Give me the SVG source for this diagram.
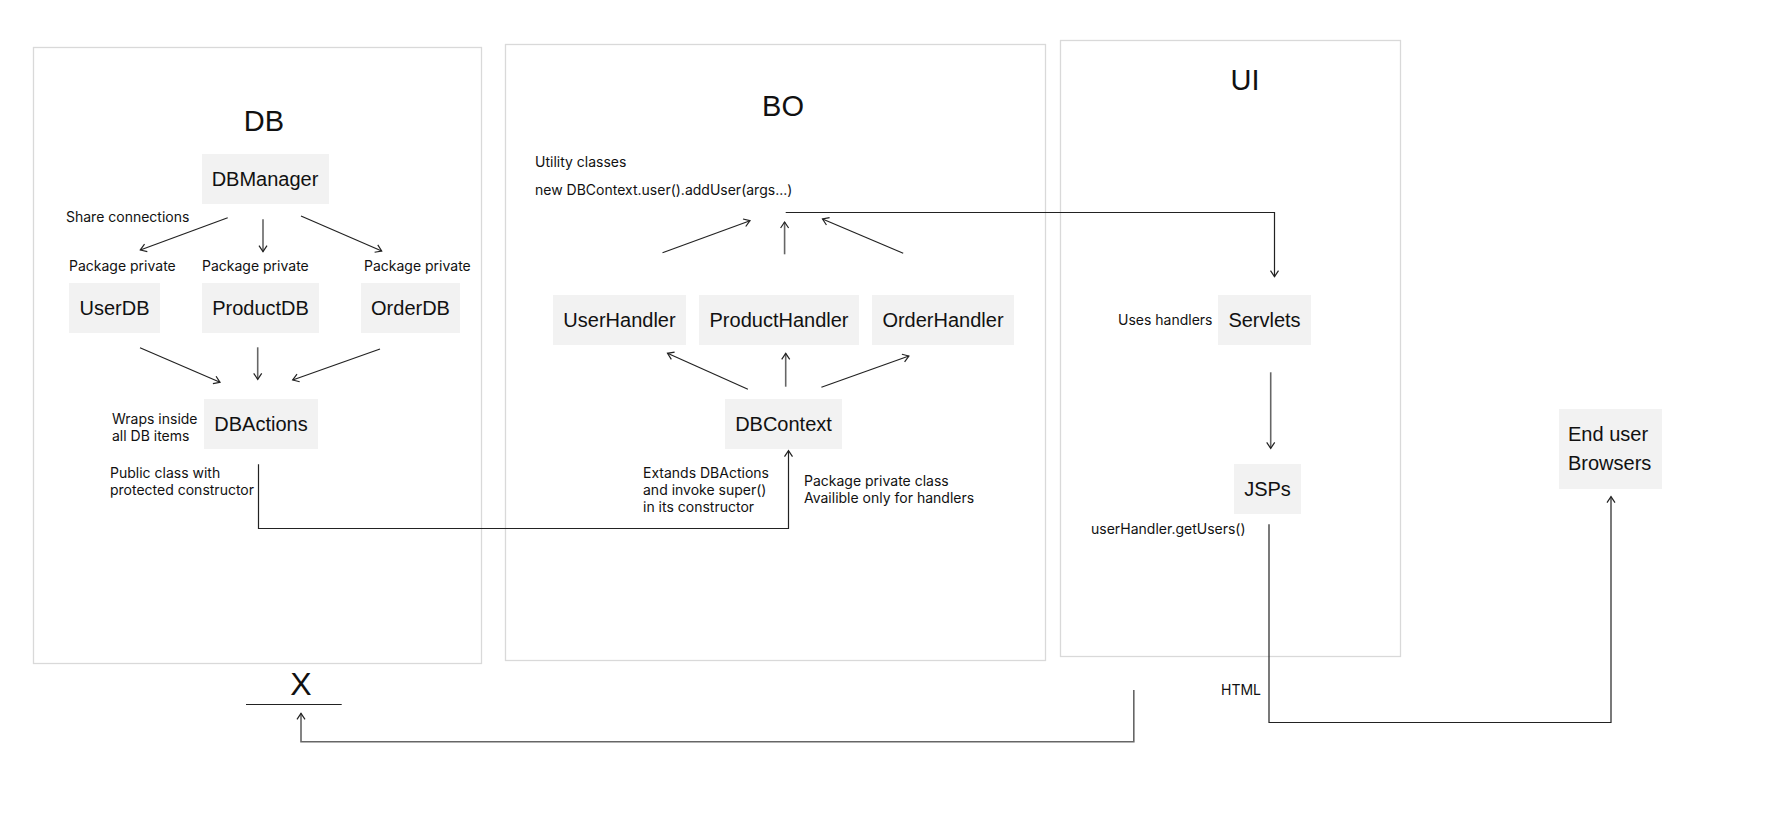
<svg xmlns="http://www.w3.org/2000/svg" width="1776" height="832" viewBox="0 0 1776 832">
<style>
text{font-family:Inter,"Noto Sans","Liberation Sans",sans-serif;fill:#111}
.frame{fill:#fff;stroke:#d9d9d9;stroke-width:1.3}
.box{fill:#f2f2f2}
.title{font-family:"Liberation Sans",Arial,sans-serif;font-size:29px;text-anchor:middle}
.node{font-family:"Liberation Sans",Arial,sans-serif;font-size:20px;text-anchor:middle}
.note{font-size:14px}
.c{fill:none;stroke:#222;stroke-width:1.2}
.g{fill:none;stroke:#666;stroke-width:1.6}
</style>
<defs>
<marker id="a" markerUnits="userSpaceOnUse" markerWidth="12" markerHeight="12" refX="8" refY="5" orient="auto">
<path d="M2,1 L8,5 L2,9" fill="none" stroke="#222" stroke-width="1.2"/>
</marker>
</defs>
<rect width="1776" height="832" fill="#fff"/>
<g id="frames">
<rect id="frame-db" class="frame" x="33.5" y="47.5" width="448" height="616"/>
<rect id="frame-bo" class="frame" x="505.5" y="44.5" width="540" height="616"/>
<rect id="frame-ui" class="frame" x="1060.5" y="40.5" width="340" height="616"/>
<text class="title" x="264" y="131">DB</text>
<text class="title" x="783" y="116">BO</text>
<text class="title" x="1245" y="90">UI</text>
</g>
<g id="connectors">
<line class="c" x1="227.7" y1="217.7" x2="140.3" y2="250" marker-end="url(#a)"/>
<line class="g" x1="263" y1="219.3" x2="263" y2="251.7" marker-end="url(#a)"/>
<line class="c" x1="301" y1="216" x2="381.7" y2="251" marker-end="url(#a)"/>
<line class="c" x1="140" y1="347.7" x2="220" y2="382.3" marker-end="url(#a)"/>
<line class="g" x1="257.7" y1="347.3" x2="257.7" y2="379.3" marker-end="url(#a)"/>
<line class="c" x1="380" y1="349" x2="292.7" y2="380" marker-end="url(#a)"/>
<polyline class="c" points="258.5,464.3 258.5,528.5 788.5,528.5 788.5,450.7" marker-end="url(#a)"/>
<line class="c" x1="747.9" y1="389.3" x2="667.5" y2="353.3" marker-end="url(#a)"/>
<line class="g" x1="785.7" y1="386.7" x2="785.7" y2="353.3" marker-end="url(#a)"/>
<line class="c" x1="821.4" y1="387.3" x2="908.9" y2="356" marker-end="url(#a)"/>
<line class="c" x1="662.5" y1="252.7" x2="750" y2="220.7" marker-end="url(#a)"/>
<line class="g" x1="784.6" y1="254.3" x2="784.6" y2="222" marker-end="url(#a)"/>
<line class="c" x1="903.2" y1="253.3" x2="822.5" y2="219" marker-end="url(#a)"/>
<polyline class="c" points="785.7,212.5 1274.5,212.5 1274.5,276.7" marker-end="url(#a)"/>
<line class="g" x1="1270.7" y1="372.3" x2="1270.7" y2="448.3" marker-end="url(#a)"/>
<polyline class="c" points="1269,524.3 1269,722.5 1611,722.5 1611,496.7" marker-end="url(#a)"/>
<polyline class="g" points="1133.8,690 1133.8,741.7 301,741.7 301,713.3" marker-end="url(#a)"/>
<line class="c" x1="246" y1="704.5" x2="341.7" y2="704.5"/>
</g>
<g id="labels">
<text class="note" x="66" y="222">Share connections</text>
<text class="note" x="69" y="271">Package private</text>
<text class="note" x="202" y="271">Package private</text>
<text class="note" x="364" y="271">Package private</text>
<text class="note" x="112" y="424">Wraps inside</text>
<text class="note" x="112" y="441">all DB items</text>
<text class="note" x="110" y="478">Public class with</text>
<text class="note" x="110" y="495">protected constructor</text>
<text class="note" x="535" y="167">Utility classes</text>
<text class="note" x="535" y="195">new DBContext.user().addUser(args...)</text>
<text class="note" x="643" y="478">Extands DBActions</text>
<text class="note" x="643" y="495">and invoke super()</text>
<text class="note" x="643" y="512">in its constructor</text>
<text class="note" x="804" y="486">Package private class</text>
<text class="note" x="804" y="503">Availible only for handlers</text>
<text class="note" x="1118" y="325">Uses handlers</text>
<text class="note" x="1091" y="534">userHandler.getUsers()</text>
<text class="note" x="1221" y="695">HTML</text>
<text x="301" y="695" style="font-family:'Liberation Sans',Arial,sans-serif;font-size:32px;text-anchor:middle">X</text>
</g>
<g id="n-dbmanager"><rect class="box" x="202" y="154" width="127" height="50"/><text class="node" x="265" y="186">DBManager</text></g>
<g id="n-userdb"><rect class="box" x="69" y="283" width="91" height="50"/><text class="node" x="114.5" y="315">UserDB</text></g>
<g id="n-productdb"><rect class="box" x="202" y="283" width="117" height="50"/><text class="node" x="260.5" y="315">ProductDB</text></g>
<g id="n-orderdb"><rect class="box" x="361" y="283" width="99" height="50"/><text class="node" x="410.5" y="315">OrderDB</text></g>
<g id="n-dbactions"><rect class="box" x="204" y="399" width="114" height="50"/><text class="node" x="261" y="431">DBActions</text></g>
<g id="n-userhandler"><rect class="box" x="553" y="295" width="133" height="50"/><text class="node" x="619.5" y="327">UserHandler</text></g>
<g id="n-producthandler"><rect class="box" x="699" y="295" width="160" height="50"/><text class="node" x="779" y="327">ProductHandler</text></g>
<g id="n-orderhandler"><rect class="box" x="872" y="295" width="142" height="50"/><text class="node" x="943" y="327">OrderHandler</text></g>
<g id="n-dbcontext"><rect class="box" x="725" y="399" width="117" height="50"/><text class="node" x="783.5" y="431">DBContext</text></g>
<g id="n-servlets"><rect class="box" x="1218" y="295" width="93" height="50"/><text class="node" x="1264.5" y="327">Servlets</text></g>
<g id="n-jsps"><rect class="box" x="1234" y="464" width="67" height="50"/><text class="node" x="1267.5" y="496">JSPs</text></g>
<g id="n-enduser"><rect class="box" x="1559" y="409" width="103" height="80"/><text class="node" x="1568" y="441" style="text-anchor:start">End user</text><text class="node" x="1568" y="470" style="text-anchor:start">Browsers</text></g>
</svg>
